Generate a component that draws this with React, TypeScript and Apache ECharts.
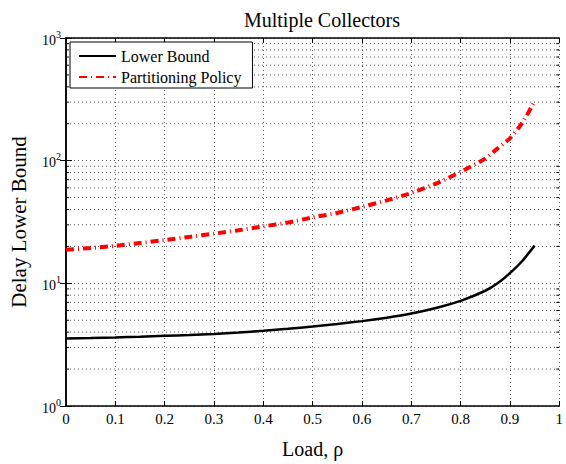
import React, { useEffect, useRef } from "react";
import * as echarts from "echarts";

const loads = [0, 0.05, 0.1, 0.15, 0.2, 0.25, 0.3, 0.35, 0.4, 0.45, 0.5, 0.55, 0.6, 0.65, 0.7, 0.75, 0.8, 0.85, 0.875, 0.9, 0.925, 0.95];
const lowerBound = [3.55, 3.58, 3.62, 3.67, 3.73, 3.79, 3.87, 3.97, 4.1, 4.26, 4.45, 4.66, 4.92, 5.25, 5.68, 6.3, 7.2, 8.7, 10.0, 12.1, 15.2, 20.3];
const partitioning = [18.8, 19.4, 20.2, 21.3, 22.5, 23.9, 25.4, 27.1, 29.1, 31.3, 34.5, 37.5, 42, 47.4, 54.5, 65, 81, 104, 126, 152, 203, 305];
const minorValues = [2, 3, 4, 5, 6, 7, 8, 9, 20, 30, 40, 50, 60, 70, 80, 90, 200, 300, 400, 500, 600, 700, 800, 900];
const xTicks = ["0", "0.1", "0.2", "0.3", "0.4", "0.5", "0.6", "0.7", "0.8", "0.9", "1"];

const FONT = "Liberation Serif";

export default function App() {
  const ref = useRef<HTMLDivElement>(null);
  useEffect(() => {
    document.body.style.margin = "0";
    const chart = echarts.init(ref.current!, null, { renderer: "svg" });
    const dotted = { color: "#555", width: 1, type: [1, 3] as any };
    chart.setOption({
      animation: false,
      backgroundColor: "#fff",
      title: {
        text: "Multiple Collectors",
        left: 317,
        top: 5,
        textAlign: "center",
        textStyle: { fontFamily: FONT, fontSize: 20, fontWeight: "normal", color: "#000" },
      },
      legend: {
        data: ["Lower Bound", "Partitioning Policy"],
        orient: "vertical",
        left: 70,
        top: 42,
        padding: [6, 11, 3, 8],
        itemGap: 5,
        itemWidth: 37,
        itemHeight: 14,
        backgroundColor: "#fff",
        borderColor: "#000",
        borderWidth: 1,
        borderRadius: 0,
        itemStyle: { color: "rgba(0,0,0,0)", borderColor: "rgba(0,0,0,0)", borderWidth: 0 },
        textStyle: { fontFamily: FONT, fontSize: 16, color: "#000" },
      },
      grid: { left: 66, right: 1, top: 38, bottom: 50 },
      xAxis: [
        {
          type: "value",
          min: 0,
          max: 1,
          interval: 0.1,
          name: "Load, ρ",
          nameLocation: "middle",
          nameGap: 33,
          nameTextStyle: { fontFamily: FONT, fontSize: 20, color: "#000" },
          axisLine: { lineStyle: { color: "#000", width: 1.5 } },
          axisTick: { inside: true, length: 5, lineStyle: { color: "#000" } },
          axisLabel: {
            fontFamily: FONT,
            fontSize: 15,
            color: "#000",
            margin: 5,
            formatter: (v: number) => xTicks[Math.round(v * 10)],
          },
          splitLine: { show: true, lineStyle: dotted },
        },
        {
          type: "value",
          position: "top",
          min: 0,
          max: 1,
          interval: 0.1,
          axisLine: { show: true, lineStyle: { color: "#000", width: 1.5 } },
          axisTick: { show: true, inside: true, length: 5, lineStyle: { color: "#000" } },
          axisLabel: { show: false },
          splitLine: { show: false },
        },
      ],
      yAxis: [
        {
          type: "log",
          logBase: 10,
          min: 1,
          max: 1000,
          name: "Delay Lower Bound",
          nameLocation: "middle",
          nameGap: 37,
          nameTextStyle: { fontFamily: FONT, fontSize: 21, color: "#000" },
          axisLine: { show: true, lineStyle: { color: "#000", width: 1.5 } },
          axisTick: { show: true, inside: true, length: 6, lineStyle: { color: "#000" } },
          axisLabel: {
            margin: 5,
            formatter: (v: number) => "{b|10}{s|" + Math.round(Math.log10(v)) + "}",
            rich: {
              b: { fontFamily: FONT, fontSize: 14, color: "#000", lineHeight: 18, verticalAlign: "bottom" },
              s: { fontFamily: FONT, fontSize: 10, color: "#000", lineHeight: 18, verticalAlign: "top", padding: [0, 0, 8, 0] },
            },
          },
          splitLine: { show: true, lineStyle: dotted },
        },
        {
          type: "log",
          logBase: 10,
          min: 1,
          max: 1000,
          position: "right",
          axisLine: { show: true, lineStyle: { color: "#000", width: 1.5 } },
          axisTick: { show: true, inside: true, length: 6, lineStyle: { color: "#000" } },
          axisLabel: { show: false },
          splitLine: { show: false },
        },
      ],
      series: [
        {
          type: "custom",
          name: "minor",
          silent: true,
          z: 1,
          xAxisIndex: 0,
          yAxisIndex: 0,
          data: minorValues.map((v) => [0, v]),
          renderItem: (params: any, api: any) => {
            const y = api.coord([0, api.value(1)])[1];
            const cs = params.coordSys;
            return {
              type: "group",
              children: [
                { type: "line", shape: { x1: cs.x, y1: y, x2: cs.x + cs.width, y2: y }, style: { stroke: "#555", lineWidth: 1, lineDash: [1, 3] } },
                { type: "line", shape: { x1: cs.x, y1: y, x2: cs.x + 3, y2: y }, style: { stroke: "#000", lineWidth: 1 } },
                { type: "line", shape: { x1: cs.x + cs.width - 3, y1: y, x2: cs.x + cs.width, y2: y }, style: { stroke: "#000", lineWidth: 1 } },
              ],
            };
          },
        },
        {
          type: "line",
          name: "Lower Bound",
          z: 3,
          data: loads.map((x, i) => [x, lowerBound[i]]),
          showSymbol: false,
          symbol: "none",
          smooth: 0.2,
          lineStyle: { color: "#000", width: 2.5 },
          itemStyle: { color: "#000" },
        },
        {
          type: "line",
          name: "Partitioning Policy",
          z: 3,
          data: loads.map((x, i) => [x, partitioning[i]]),
          showSymbol: false,
          symbol: "none",
          smooth: 0.2,
          lineStyle: { color: "#ff0000", width: 4, type: [8, 4, 1, 4], cap: "butt" },
          itemStyle: { color: "#ff0000" },
        },
      ],
    });
    return () => chart.dispose();
  }, []);
  return <div ref={ref} style={{ width: 566, height: 464 }} />;
}
